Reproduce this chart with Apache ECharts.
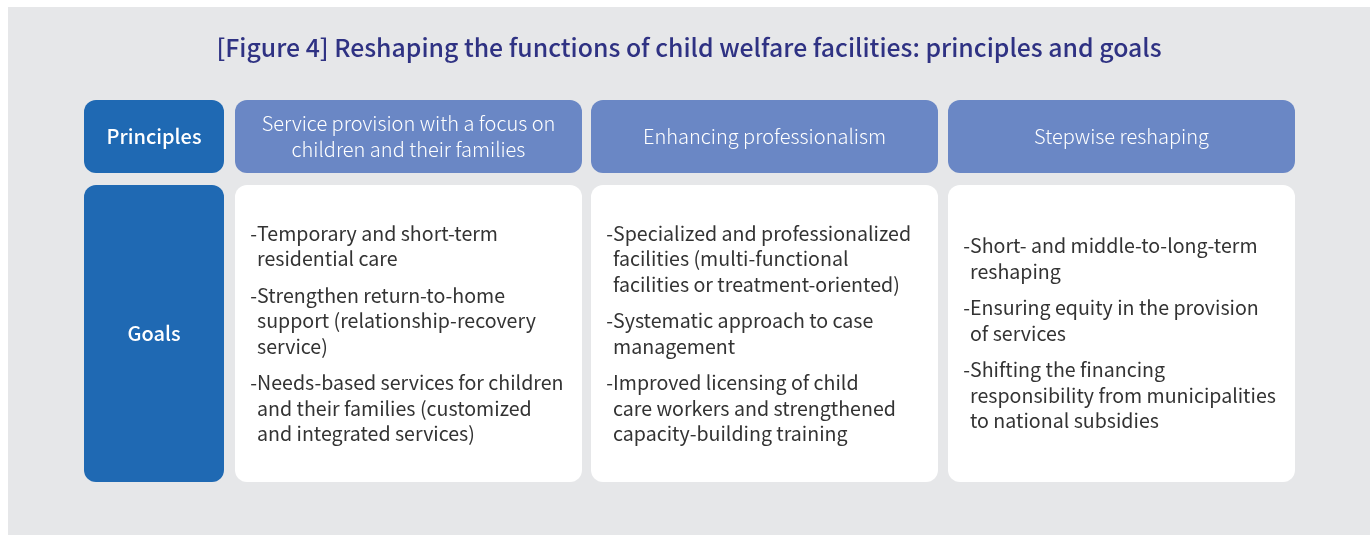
<!DOCTYPE html>
<html><head><meta charset="utf-8">
<script src="https://cdn.jsdelivr.net/npm/echarts@6/dist/echarts.min.js"></script>
<style>html,body{margin:0;padding:0;background:#fff}#c{width:1372px;height:535px}</style>
</head><body><div id="c"></div>
<script>
const titleText = '[Figure 4] Reshaping the functions of child welfare facilities: principles and goals';
const rowLabels = ['Principles', 'Goals'];
const principles = [
  'Service provision with a focus on\nchildren and their families',
  'Enhancing professionalism',
  'Stepwise reshaping'
];
const goals = [
  [
    ['Temporary and short-term', 'residential care'],
    ['Strengthen return-to-home', 'support (relationship-recovery', 'service)'],
    ['Needs-based services for children', 'and their families (customized', 'and integrated services)']
  ],
  [
    ['Specialized and professionalized', 'facilities (multi-functional', 'facilities or treatment-oriented)'],
    ['Systematic approach to case', 'management'],
    ['Improved licensing of child', 'care workers and strengthened', 'capacity-building training']
  ],
  [
    ['Short- and middle-to-long-term', 'reshaping'],
    ['Ensuring equity in the provision', 'of services'],
    ['Shifting the financing', 'responsibility from municipalities', 'to national subsidies']
  ]
];

const FONT = '"Noto Sans CJK KR", "Noto Sans", sans-serif';
const chart = echarts.init(document.getElementById('c'), null, {renderer: 'canvas'});
const els = [];
els.push({type: 'rect', shape: {x: 8, y: 7, width: 1362, height: 528}, style: {fill: '#e6e7e9'}, silent: true});
els.push({type: 'text', x: 689, y: 48, style: {text: titleText, fill: '#2f3283', font: '500 24.8px ' + FONT, textAlign: 'center', textVerticalAlign: 'middle'}});
const labelX = 84, labelW = 140;
const colX = [235, 591, 948], colW = 347;
const row1Y = 100, row1H = 73, row2Y = 185, row2H = 297;
const R = 12;
[[row1Y, row1H], [row2Y, row2H]].forEach(([y, h], i) => {
  els.push({type: 'rect', shape: {x: labelX, y: y, width: labelW, height: h, r: R}, style: {fill: '#1f69b3'}});
  els.push({type: 'text', x: labelX + labelW / 2, y: y + h / 2, style: {text: rowLabels[i], fill: '#ffffff', font: '500 20px ' + FONT, textAlign: 'center', textVerticalAlign: 'middle'}});
});
const LH = 25.5, GAP = 11;
principles.forEach((p, i) => {
  els.push({type: 'rect', shape: {x: colX[i], y: row1Y, width: colW, height: row1H, r: R}, style: {fill: '#6a87c5'}});
  els.push({type: 'text', x: colX[i] + colW / 2, y: row1Y + row1H / 2, style: {text: p, fill: '#ffffff', font: '300 20px ' + FONT, lineHeight: LH, textAlign: 'center', textVerticalAlign: 'middle'}});
});
goals.forEach((items, i) => {
  els.push({type: 'rect', shape: {x: colX[i], y: row2Y, width: colW, height: row2H, r: R}, style: {fill: '#ffffff'}});
  let nLines = 0; items.forEach(it => nLines += it.length);
  const total = nLines * LH + (items.length - 1) * GAP;
  let y = row2Y + row2H / 2 - total / 2;
  const tx = colX[i] + 22;
  items.forEach(lines => {
    els.push({type: 'text', x: tx, y: y, style: {text: '-', fill: '#333333', font: '400 19.6px ' + FONT, lineHeight: LH, textAlign: 'right', textVerticalAlign: 'top'}});
    els.push({type: 'text', x: tx, y: y, style: {text: lines.join('\n'), fill: '#333333', font: '400 19.6px ' + FONT, lineHeight: LH, textAlign: 'left', textVerticalAlign: 'top'}});
    y += lines.length * LH + GAP;
  });
});
chart.setOption({animation: false, graphic: {elements: els}});
</script></body></html>
